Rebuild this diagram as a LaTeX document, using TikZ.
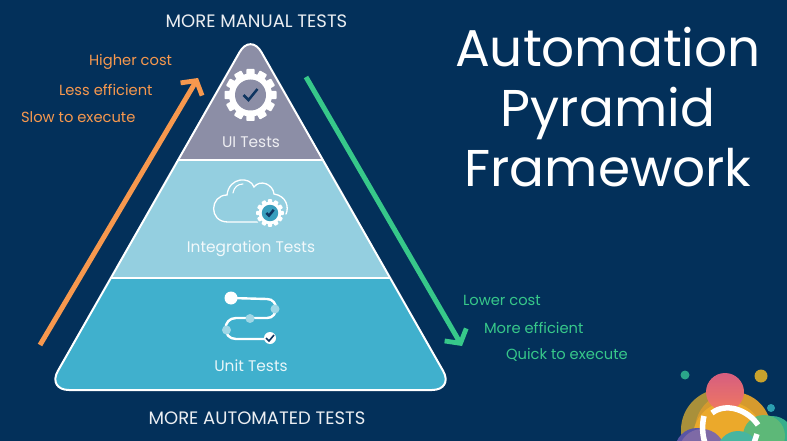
\documentclass[tikz,border=0pt]{standalone}
\usepackage{fontspec}
\setmainfont{Poppins}
\usetikzlibrary{positioning,arrows.meta}
\definecolor{navybg}{HTML}{03305A}
\definecolor{uigrey}{HTML}{8C8EA6}
\definecolor{midblue}{HTML}{94CFE0}
\definecolor{lowblue}{HTML}{40B0CD}
\definecolor{costorange}{HTML}{F7984E}
\definecolor{costgreen}{HTML}{37C88A}
\definecolor{tickblue}{HTML}{0F3560}
\definecolor{logodot}{HTML}{2C9FB0}
\definecolor{logoteal}{HTML}{2BA58A}
\definecolor{logoyellow}{HTML}{C9A22C}
\definecolor{logoolive}{HTML}{A9903A}
\definecolor{logoamber}{HTML}{D59A2E}
\definecolor{logogold}{HTML}{EBA92B}
\definecolor{logopinktop}{HTML}{D65E80}
\definecolor{logopinklow}{HTML}{F07860}
\definecolor{logoblue}{HTML}{5A55A5}
\definecolor{logopurple}{HTML}{7E6AA6}
\definecolor{logosea}{HTML}{35AE8C}
\definecolor{logogreen}{HTML}{5DB878}
\definecolor{logoaqua}{HTML}{47B5A0}
\tikzset{
  gearicon/.pic={
    \foreach \a in {0,30,...,330}
      \fill[white,rotate=\a,rounded corners=0.8pt] (-4.2,-26) rectangle (4.2,-15);
    \fill[white] (0,0) circle (21.5);
    \fill[pic actions] (0,0) circle (15.5);
    \draw[tickblue,line width=2.5pt] (-7,0) -- (-2,5) -- (7,-6);
  }
}
\begin{document}
\begin{tikzpicture}[x=1pt, y=-1pt, on grid,
    sidelabel/.style={font=\fontsize{14.7}{17}\selectfont, anchor=west},
    tierlabel/.style={font=\fontsize{15.4}{18}\selectfont},
    endlabel/.style={font=\fontsize{18}{21}\selectfont, text=white!92!navybg},
    costarrow/.style={line width=5pt, -{Straight Barb[length=10pt,width=25pt,line width=4.8pt]}}
  ]
  \useasboundingbox (0,0) rectangle (787,441);
  \fill[navybg] (0,0) rectangle (787,441);

  % pyramid
  \begin{scope}
    \clip[rounded corners=22pt] (250.5,33) -- (454,390) -- (47,390) -- cycle;
    \fill[uigrey] (0,0) rectangle (787,160);
    \fill[midblue] (0,160) rectangle (787,278);
    \fill[lowblue] (0,278) rectangle (787,441);
    \draw[white,line width=2pt] (0,160) -- (787,160) (0,278) -- (787,278);
  \end{scope}
  \draw[white,line width=2pt,rounded corners=22pt] (250.5,33) -- (454,390) -- (47,390) -- cycle;

  % icons
  \pic[fill=uigrey] at (250.5,95) {gearicon};
  \draw[white,line width=1.3pt,line cap=round]
    (258,222) -- (228,222) .. controls (208,222) and (210,195) .. (227,195)
    .. controls (229,177) and (250,176) .. (254,187)
    .. controls (260,179) and (273,184) .. (274,194)
    .. controls (287,196) and (289,208) .. (286,214);
  \draw[white,line width=1.1pt,line cap=round] (233,193) .. controls (234,187) and (238,184) .. (243,184);
  \fill[midblue] (270,213) circle (15);
  \pic[fill=lowblue!85!tickblue,scale=0.53] at (270,213) {gearicon};
  \draw[white,line width=2.4pt,line cap=round]
    (231,298) -- (267,299) .. controls (279,299) and (279,318) .. (267,318)
    -- (236,318) .. controls (222,318) and (222,339) .. (236,339) -- (270,339);
  \fill[white] (231,298) circle (6.5);
  \fill[white!50!lowblue] (275,309) circle (4.5) (250,318.5) circle (4.5) (226.5,330) circle (4.5);
  \fill[white] (270,338) circle (6);
  \draw[tickblue,line width=1.6pt] (266,338) -- (269,341) -- (274,335);

  % tier names
  \node[tierlabel,text=white!85!uigrey] (ui) at (251,142) {UI Tests};
  \node[tierlabel,text=white!88!midblue] (integration) at (251,249) {Integration Tests};
  \node[tierlabel,text=white!88!lowblue] (unit) at (251,366) {Unit Tests};

  \node[endlabel] (manual) at (256.5,21) {MORE MANUAL TESTS};
  \node[endlabel] (automated) at (257,418) {MORE AUTOMATED TESTS};

  \node[font=\fontsize{51.7}{60}\selectfont,align=center,text=white] (title) at (608,107)
    {Automation\\Pyramid\\Framework};

  % arrows
  \coordinate (upstart) at (40,345);
  \coordinate (uptip) at (198,78);
  \coordinate (downstart) at (306,77);
  \coordinate (downtip) at (462,346);
  \draw[costarrow,costorange] (upstart) -- (uptip);
  \draw[costarrow,costgreen] (downstart) -- (downtip);

  \node[sidelabel,text=costorange] (higher) at (85.5,62) {Higher cost};
  \node[sidelabel,text=costorange] (less) [below left=27.5pt and 30pt of higher.west, anchor=west] {Less efficient};
  \node[sidelabel,text=costorange] (slow) [below left=27.5pt and 38pt of less.west, anchor=west] {Slow to execute};
  \node[sidelabel,text=costgreen] (lower) at (459.5,300) {Lower cost};
  \node[sidelabel,text=costgreen] (more) [below right=27.5pt and 21pt of lower.west, anchor=west] {More efficient};
  \node[sidelabel,text=costgreen] (quick) [below right=27.5pt and 22pt of more.west, anchor=west] {Quick to execute};

  % logo
  \begin{scope}
    \clip (0,0) rectangle (787,441);
    \fill[logodot] (771,408) circle (4);
    \fill[logoteal] (685,375) circle (4.5);
    \fill[logoyellow] (761,376) circle (6.5);
    \fill[logoolive] (722,430) circle (41);
    \fill[logoamber] (733,430) circle (38);
    \fill[logogold] (728,437) circle (35);
    \shade[top color=logopinktop,bottom color=logopinklow] (725,392) circle (19);
    \fill[logoblue] (697,450) circle (22);
    \fill[logopurple] (702,452) circle (23);
    \fill[logosea] (772,438) circle (22);
    \fill[logogreen] (764,436) circle (21);
    \fill[logoaqua] (738,452) circle (21);
    \draw[white,line width=5.5pt] (758,425) .. controls (748,410) and (726,402) .. (712,413);
    \draw[white,line width=5.5pt] (704,416) .. controls (702,424) and (702,434) .. (705,443);
    \draw[white,line width=5.5pt] (754,443) -- (757,434);
  \end{scope}
\end{tikzpicture}
\end{document}
